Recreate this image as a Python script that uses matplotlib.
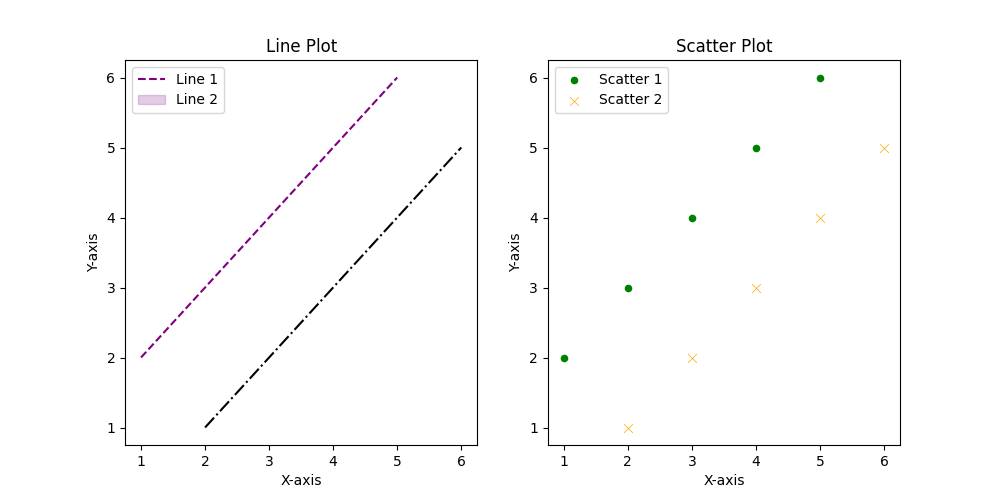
import matplotlib
matplotlib.use("Agg")
import matplotlib.pyplot as plt
from matplotlib.lines import Line2D
from matplotlib.patches import Patch

# data
line1_x = [1, 2, 3, 4, 5]
line1_y = [2, 3, 4, 5, 6]
line2_x = [2, 3, 4, 5, 6]
line2_y = [1, 2, 3, 4, 5]

scatter1_x = [1, 2, 3, 4, 5]
scatter1_y = [2, 3, 4, 5, 6]
scatter2_x = [2, 3, 4, 5, 6]
scatter2_y = [1, 2, 3, 4, 5]

fig, (ax1, ax2) = plt.subplots(1, 2, figsize=(10, 5), dpi=100)

#%% line plot
ax1.plot(line1_x, line1_y, color="purple", linestyle="--")
ax1.plot(line2_x, line2_y, color="black", linestyle="-.")
ax1.set_title("Line Plot")
ax1.set_xlabel("X-axis")
ax1.set_ylabel("Y-axis")
handles = [Line2D([0], [0], color="purple", linestyle="--", label="Line 1"),
           Patch(color="purple", alpha=0.2, label="Line 2")]
ax1.legend(handles=handles, loc="upper left")

#%% scatter plot
ax2.scatter(scatter1_x, scatter1_y, color="green", marker="o", s=20, label="Scatter 1")
ax2.scatter(scatter2_x, scatter2_y, color="orange", marker="x", s=40, linewidths=0.5, label="Scatter 2")
ax2.set_title("Scatter Plot")
ax2.set_xlabel("X-axis")
ax2.set_ylabel("Y-axis")
ax2.legend(loc="upper left")

fig.savefig("out.png")
